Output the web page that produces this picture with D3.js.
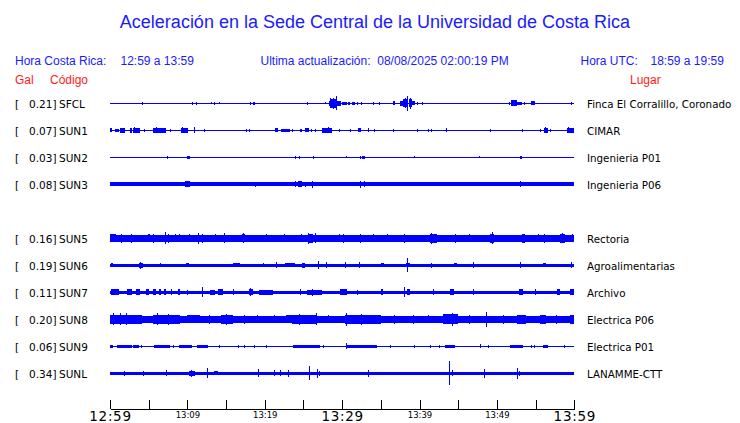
<!DOCTYPE html>
<html><head><meta charset="utf-8">
<script src="https://cdn.jsdelivr.net/npm/d3@7"></script>
<style>
html,body{margin:0;padding:0;background:#fff;}
svg{display:block;}
text{white-space:pre;}
</style></head>
<body>
<svg id="chart" width="740" height="423"></svg>
<script>
// ---------- data ----------
const codes   = ["SFCL","SUN1","SUN2","SUN3","SUN5","SUN6","SUN7","SUN8","SUN9","SUNL"];
const slots   = [0,1,2,3,5,6,7,8,9,10];            // row index (SUN4 slot empty)
const galValues = [0.21,0.07,0.03,0.08,0.16,0.19,0.11,0.20,0.06,0.34];
const places  = ["Finca El Corralillo, Coronado","CIMAR","Ingenieria P01","Ingenieria P06",
                 "Rectoria","Agroalimentarias","Archivo","Electrica P06","Electrica P01","LANAMME-CTT"];
const baseAmp = [0.75,0.8,0.75,2.0,3.2,1.4,1.7,3.4,0.75,1.6];   // background noise level
const tickMinutes = [0,5,10,15,20,25,30,35,40,45,50,55,60];
const tickLabels  = {0:"12:59",10:"13:09",20:"13:19",30:"13:29",40:"13:39",50:"13:49",60:"13:59"};
const majorTicks  = [0,30,60];

// events per station: [start minute, end minute, amplitude]
const sfclEvents = [[4.2,4.2,1.5],[10.6,10.6,1.5],[11.2,11.2,1.5],[13.1,13.1,1],[13.5,13.5,1.5],[14.1,14.1,1],[18.1,18.1,1.5],[18.5,18.7,1.5],[25.4,25.5,1.5],[27.9,27.9,1],
 [28.3,28.6,2.5],[28.5,28.5,5],[28.6,29.2,4.5],[28.9,28.9,5.5],[29.3,29.3,7],[29.2,29.9,2.2],[30.0,30.6,1.5],[30.8,31.0,1.5],[31.3,31.6,1.5],[31.9,32.0,1.5],[32.4,32.6,1.5],[34.0,34.0,1.5],[34.8,34.8,1.5],
 [36.6,36.8,2],[37.5,37.8,2.5],[37.8,38.4,4],[38.2,38.2,5],[38.5,38.5,7.5],[38.6,39.0,4],[38.8,38.8,5.5],[39.0,39.4,2],[39.8,39.8,1.5],[40.4,40.4,1.5],
 [51.6,51.7,1.5],[51.8,52.6,3],[52.6,53.2,1.5],[53.5,53.5,1.5],[54.4,54.9,2],[59.7,59.7,1.5]];
const sun1Events = [[0,0.2,2],[0.65,1.2,1.8],[1.3,2.0,2.2],[2.6,2.8,2.2],[3.0,3.9,2.2],[3.2,3.2,3],[4.4,4.4,1.5],[5.6,7.3,2.2],[6.0,6.0,3],[7.8,7.8,1.5],[9.2,10.1,2.2],[9.4,9.4,3],[10.9,10.9,3],[12.2,12.2,1.5],[17.7,17.7,1.5],[18.0,18.0,1.5],[21.3,21.7,2],[22.1,23.3,1.4],[23.6,23.6,1.5],[24.6,24.8,1.5],[25.2,25.7,2],[26.1,26.1,1.5],[26.6,26.6,1.5],[27.4,28.7,2.2],[28.2,28.2,3],[29.7,29.7,1.5],[31.1,31.1,1.5],[32.1,32.4,2],[33.4,33.5,2],[34.2,34.2,1.5],[36.6,36.6,1.5],[39.8,39.8,1.5],[41.1,41.1,1.5],[41.6,41.6,1.5],[43.4,43.5,2],[49.2,49.2,1.5],[53.3,53.3,1.5],[55.6,55.6,1.5],[56.1,56.6,2.2],[56.3,56.3,3],[56.9,56.9,1.5],[59.0,59.9,2.2],[59.3,59.3,3]];
const sun2Events = [[7.4,7.4,1.5],[9.9,10.3,1.5],[24.0,24.0,1.5],[24.5,24.5,1.5],[26.2,26.3,1.5],[30.5,30.5,1],[32.3,32.4,1.5],[32.6,32.9,1.5],[39.3,39.3,1],[47.7,47.7,1],[53.0,53.2,1.5]];
const sun3Events = [[9.7,10.3,3],[18.8,18.8,2.5],[24.0,24.0,3],[24.3,24.8,3],[25.2,25.2,2.5],[26.2,26.2,3.5],[32.4,32.4,3.5],[32.9,32.9,3],[53.1,53.1,3]];
const sun5Events = [[0,0.8,4],[1.5,1.5,4.5],[2.8,2.8,4.5],[4.9,5.2,4],[5.6,5.6,4.5],[7.2,7.2,6],[7.5,7.5,4.5],[8.4,8.4,4],[9.0,9.0,4],[10.3,10.3,4],[11.4,11.4,5.5],[11.9,11.9,4.5],[13.6,13.6,4],[14.8,14.8,5],[17.0,17.5,4],[17.3,17.3,5],[20.2,20.2,4],[22.5,22.5,4],[24.8,24.8,4],[25.6,26.2,4.2],[25.7,25.7,5.5],[26.6,26.6,5],[29.6,29.6,4],[30.2,30.2,4.5],[32.4,32.4,4.5],[34.0,34.0,4],[35.8,35.8,4],[38.1,38.1,4.5],[41.3,42.2,4.2],[41.6,41.6,5.5],[44.7,44.7,4.5],[46.4,46.4,4],[49.1,49.6,4.5],[49.4,49.4,6],[53.2,53.6,4.2],[55.4,55.4,4],[56.2,56.2,4.5],[58.2,58.8,4.2],[58.5,58.5,5],[59.8,59.8,4]];
const sun6Events = [[0.1,0.4,1.8],[3.8,4.3,2.5],[4.0,4.0,3.5],[6.5,6.5,2],[9.8,10.2,1.8],[15.9,16.8,1.8],[19.8,19.8,2],[21.5,21.5,3],[22.6,23.9,2.2],[24.8,25.2,2.5],[27.0,27.0,4],[28.0,28.0,3],[30.4,30.4,3],[32.2,32.2,3],[35.0,35.4,2],[38.3,38.8,2.2],[38.5,38.5,7],[41.5,41.5,2.5],[44.5,44.8,2.2],[47.0,47.0,3],[53.0,53.0,3],[56.0,56.3,2.2],[59.6,59.6,3]];
const sun7Events = [[0.1,1.1,2.8],[2.2,2.8,2.8],[3.4,3.9,2.8],[4.7,5.0,2.8],[5.5,5.9,2.8],[6.3,6.6,2.8],[7.0,7.3,2.8],[8.0,8.0,3],[8.8,9.0,2.8],[10.0,10.0,2.5],[11.9,11.9,5],[12.9,13.6,2.4],[14.0,14.6,2.8],[15.9,15.9,3],[17.9,18.5,3],[18.1,18.1,4],[19.2,21.1,2.6],[24.6,24.6,3],[25.4,27.4,2.6],[26.2,26.2,3.5],[29.7,30.6,2.8],[32.0,32.0,2.5],[35.0,35.3,2.8],[38.1,38.1,5],[38.4,38.8,2.8],[41.8,41.8,3],[44.0,44.4,2.8],[47.0,47.0,3],[52.8,53.4,3],[55.0,55.0,3],[57.8,58.2,2.8],[59.5,59.9,2.8]];
const sun8Events = [[0,4.1,4.5],[0.4,0.4,6],[1.3,1.3,6],[2.1,2.1,6],[5.6,9.0,4.5],[6.2,6.2,6],[7.6,7.6,5.5],[9.9,11.6,4.2],[12.8,12.8,4.5],[14.4,15.9,4.5],[15.0,15.0,5.5],[17.4,17.4,4.5],[19.1,19.1,4],[21.2,21.2,4],[22.8,23.7,4.2],[23.5,26.7,4.5],[24.5,24.5,5.5],[26.7,26.7,6],[28.2,28.2,4],[30.4,35.0,4.5],[30.6,30.6,6.5],[32.5,32.5,5.5],[36.8,36.8,4.5],[39.2,39.2,4.5],[41.2,41.2,4],[43.0,45.0,5],[44.2,44.2,6.5],[46.5,46.5,4.5],[48.7,48.7,7.5],[50.8,50.8,4.5],[52.6,53.8,4.5],[55.6,56.3,4.5],[57.7,57.7,4.5],[59.5,60,4.5]];
const sun9Events = [[0,0.4,1.3],[0.9,2.8,1.5],[3.0,3.7,1.3],[4.1,4.1,1.5],[5.7,7.8,1.5],[8.2,8.2,1.5],[8.9,10.6,1.5],[11.3,12.7,1.5],[14.2,14.2,1.5],[16.6,16.6,1.5],[17.4,17.4,1.5],[18.7,18.7,1.5],[20.2,20.2,1.5],[23.7,27.1,1.5],[27.6,27.6,1.5],[30.5,34.5,1.5],[30.5,30.5,3],[36.2,36.2,1.5],[39.3,39.3,1.5],[41.4,41.4,1.5],[42.6,42.6,1.5],[43.3,44.6,1.3],[47.8,47.9,2],[48.9,48.9,1.5],[51.7,53.4,1.5],[54.5,54.5,1.5],[54.9,54.9,1.5],[56.0,56.6,1.5],[58.7,58.7,1.5]];
const sunlEvents = [[1.8,2.0,2.5],[4.2,4.4,2.5],[7.3,7.4,3],[10.2,11.0,2.6],[10.5,10.5,3.5],[12.6,12.6,5],[13.5,14.0,2.2],[19.2,19.2,4],[21.2,21.2,3],[22.0,22.0,3],[23.0,23.1,3.5],[25.8,25.8,7],[26.8,26.8,4.5],[27.0,27.2,2.6],[33.4,33.4,3.5],[43.9,43.9,12],[44.2,44.2,3],[48.4,48.4,4.5],[52.6,52.6,5.5],[52.8,53.0,2.5]];
const allEvents = [sfclEvents,sun1Events,sun2Events,sun3Events,sun5Events,sun6Events,sun7Events,sun8Events,sun9Events,sunlEvents];

// ---------- drawing ----------
const svg = d3.select("#chart");
const blue = "#0000ff", textBlue = "#1a1aff", red = "#ff1a1a";
const sans = "'Liberation Sans', Arial, sans-serif";
const dj = "'DejaVu Sans', sans-serif";

svg.append("text").attr("x",375).attr("y",28).attr("text-anchor","middle")
  .attr("font-family",sans).attr("font-size",18).attr("fill",textBlue)
  .text("Aceleración en la Sede Central de la Universidad de Costa Rica");

const hdr = [[15,"Hora Costa Rica:"],[120.5,"12:59 a 13:59"],[260.5,"Ultima actualización:  08/08/2025 02:00:19 PM"],[580.5,"Hora UTC:"],[650.5,"18:59 a 19:59"]];
svg.selectAll("text.hdr").data(hdr).join("text").attr("class","hdr")
  .attr("x",d=>d[0]).attr("y",64.5).attr("font-family",sans).attr("font-size",12).attr("fill",textBlue).text(d=>d[1]);
const sub = [[15,"Gal"],[50,"Código"],[630,"Lugar"]];
svg.selectAll("text.sub").data(sub).join("text").attr("class","sub")
  .attr("x",d=>d[0]).attr("y",84).attr("font-family",sans).attr("font-size",12).attr("fill",red).text(d=>d[1]);

const x = d3.scaleLinear().domain([0,60]).range([110,574.3]);
const row = d3.scaleLinear().domain([0,10]).range([103.3,373.3]);
const amp = d3.scaleLinear().domain([0,13.5]).range([0,13.5]);

const g = svg.selectAll("g.sta").data(codes.map((c,i)=>({code:c,i,slot:slots[i]})))
  .join("g").attr("class","sta").attr("transform",d=>`translate(0,${row(d.slot)})`);

g.append("text").attr("x",15).attr("y",5).attr("font-family",dj).attr("font-size",10.5).attr("fill","#000").text("[");
g.append("text").attr("x",56.5).attr("y",5).attr("text-anchor","end").attr("font-family",dj).attr("font-size",10.5).attr("fill","#000")
  .text(d=>galValues[d.i].toFixed(2)+"]");
g.append("text").attr("x",59).attr("y",5).attr("font-family",dj).attr("font-size",10.5).attr("fill","#000").text(d=>d.code);
g.append("text").attr("x",587).attr("y",5).attr("font-family",dj).attr("font-size",10.3).attr("fill","#000").text(d=>places[d.i]);

g.each(function(d){
  const sel = d3.select(this);
  const segs = [[0,60,baseAmp[d.i]]].concat(allEvents[d.i]);
  sel.selectAll("rect").data(segs).join("rect")
    .attr("x",s=>x(s[0]) - (s[0]===s[1]?0.5:0))
    .attr("width",s=>Math.max(1,x(s[1])-x(s[0])))
    .attr("y",s=>-amp(s[2]))
    .attr("height",s=>2*amp(s[2]))
    .attr("fill",blue).attr("shape-rendering","crispEdges");
});

const axis = d3.axisBottom(x).tickValues(tickMinutes).tickSizeInner(-9).tickSizeOuter(0)
  .tickFormat(m=>tickLabels[m]||"");
const ax = svg.append("g").attr("transform","translate(0,409)").call(axis);
ax.select(".domain").attr("stroke","#000").attr("shape-rendering","crispEdges");
ax.selectAll(".tick line").attr("stroke","#000").attr("shape-rendering","crispEdges");
ax.selectAll(".tick text").attr("fill","#000").attr("dy",null)
  .attr("font-family",dj).attr("font-weight","normal")
  .attr("font-size",m=>majorTicks.includes(m)?13.5:8.5)
  .attr("y",m=>majorTicks.includes(m)?12.3:9)
  .attr("letter-spacing",m=>majorTicks.includes(m)?0.7:0);
</script>
</body></html>
